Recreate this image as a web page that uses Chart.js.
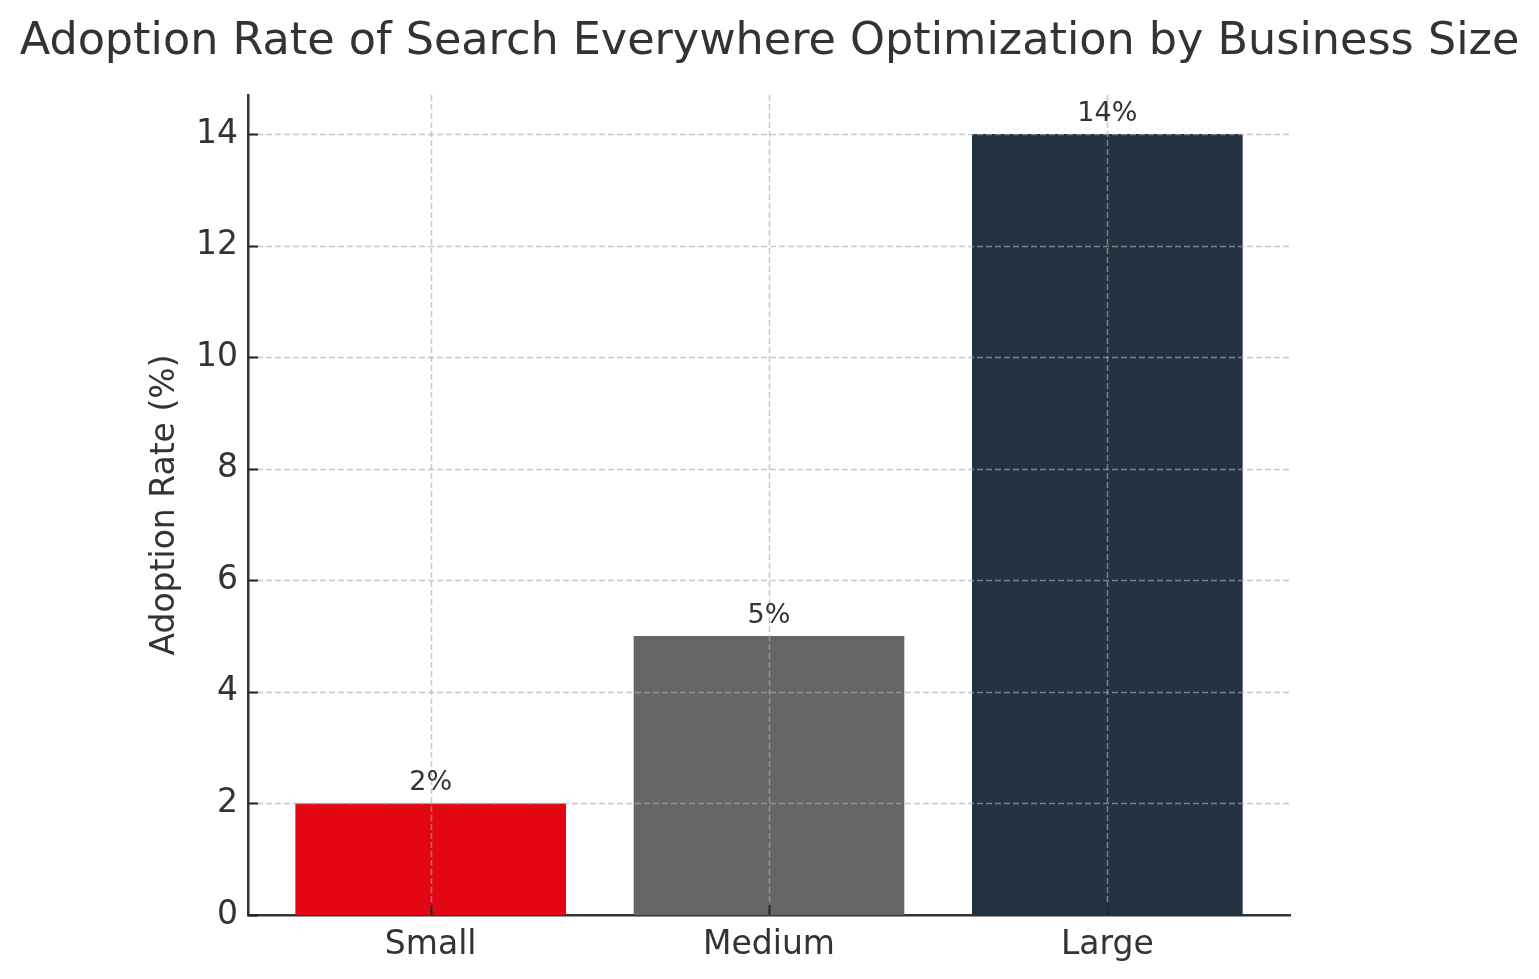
<!DOCTYPE html>
<html>
<head>
<meta charset="utf-8">
<script src="https://cdn.jsdelivr.net/npm/chart.js@4"></script>
<style>
  html, body { margin: 0; padding: 0; background: #fff; }
  #wrap { width: 1539px; height: 979px; }
</style>
</head>
<body>
<div id="wrap"><canvas id="adoptionChart" width="1539" height="979"></canvas></div>
<script>
const categories = ["Small", "Medium", "Large"];
const adoptionRates = [2, 5, 14];
const barColors = ["#E30613", "#666666", "#233241"];
const yTicks = [0, 2, 4, 6, 8, 10, 12, 14];
const chartTitle = "Adoption Rate of Search Everywhere Optimization by Business Size";

const FONT = "'DejaVu Sans', sans-serif";
const TEXT = "#333333";

// matplotlib-ish extras: title, dashed grid over the bars, inward ticks, value labels
const overlay = {
    id: "overlay",
    afterDatasetsDraw(chart) {
        const { ctx, chartArea: a, scales: { x, y } } = chart;
        ctx.save();
        ctx.strokeStyle = "rgba(170,170,170,0.65)";
        ctx.lineWidth = 1.5;
        ctx.setLineDash([6, 3]);
        yTicks.forEach(v => {
            if (v === 0) return;
            const py = Math.round(y.getPixelForValue(v)) + 0.5;
            ctx.beginPath(); ctx.moveTo(a.left, py); ctx.lineTo(a.right, py); ctx.stroke();
        });
        categories.forEach((c, i) => {
            const px = Math.round(x.getPixelForValue(i)) + 0.5;
            ctx.beginPath(); ctx.moveTo(px, a.top); ctx.lineTo(px, a.bottom); ctx.stroke();
        });
        ctx.setLineDash([]);

        // inward tick marks
        ctx.strokeStyle = "#222";
        ctx.lineWidth = 2;
        categories.forEach((c, i) => {
            const px = Math.round(x.getPixelForValue(i)) + 0.5;
            ctx.beginPath(); ctx.moveTo(px, a.bottom); ctx.lineTo(px, a.bottom - 10); ctx.stroke();
        });
        yTicks.forEach(v => {
            const py = Math.round(y.getPixelForValue(v)) + 0.5;
            ctx.beginPath(); ctx.moveTo(a.left, py); ctx.lineTo(a.left + 10, py); ctx.stroke();
        });

        // value labels
        ctx.fillStyle = TEXT;
        ctx.font = "27px " + FONT;
        ctx.textAlign = "center";
        ctx.textBaseline = "alphabetic";
        const meta = chart.getDatasetMeta(0);
        meta.data.forEach((bar, i) => {
            ctx.fillText(adoptionRates[i] + "%", bar.x, bar.y - 13);
        });

        // title
        ctx.font = "44.5px " + FONT;
        ctx.fillText(chartTitle, chart.width / 2, 54);
        ctx.restore();
    }
};

const ctx = document.getElementById("adoptionChart").getContext("2d");
new Chart(ctx, {
    type: "bar",
    data: {
        datasets: [{
            label: "Adoption Rate (%)",
            data: categories.map((c, i) => ({ x: i, y: adoptionRates[i] })),
            backgroundColor: barColors,
            borderWidth: 0,
            categoryPercentage: 0.8,
            barPercentage: 1.0
        }]
    },
    options: {
        responsive: false,
        animation: false,
        layout: { padding: { top: 95, right: 249, left: 0, bottom: 0 } },
        plugins: {
            legend: { display: false },
            tooltip: { enabled: false },
            title: { display: false }
        },
        scales: {
            x: {
                type: "linear",
                offset: false,
                min: -0.54,
                max: 2.54,
                afterBuildTicks: s => { s.ticks = categories.map((c, i) => ({ value: i })); },
                afterFit: s => { s.height = 64; },
                ticks: {
                    callback: v => categories[v],
                    color: TEXT,
                    font: { family: FONT, size: 33 },
                    padding: 11,
                    maxRotation: 0
                },
                grid: { display: false, drawTicks: false, offset: false },
                border: { display: true, color: "#333333", width: 2.5 }
            },
            y: {
                min: 0,
                max: 14.7,
                afterBuildTicks: s => { s.ticks = yTicks.map(v => ({ value: v })); },
                afterFit: s => { s.width = 248; },
                ticks: {
                    color: TEXT,
                    font: { family: FONT, size: 33 },
                    padding: 10
                },
                grid: { display: false, drawTicks: false },
                border: { display: true, color: "#333333", width: 2.5 },
                title: {
                    display: true,
                    text: "Adoption Rate (%)",
                    color: TEXT,
                    font: { family: FONT, size: 33 },
                    padding: { top: 146, bottom: 0 }
                }
            }
        }
    },
    plugins: [overlay]
});
</script>
</body>
</html>
